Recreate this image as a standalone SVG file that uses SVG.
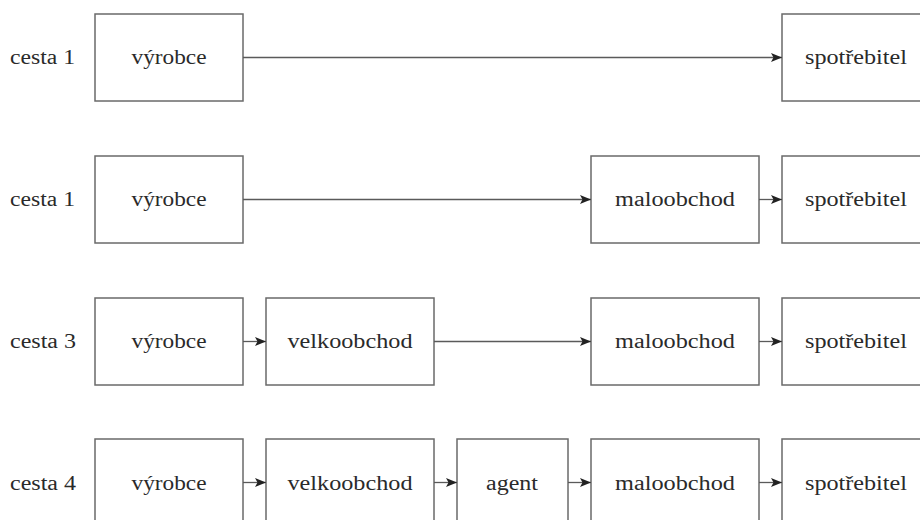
<svg xmlns="http://www.w3.org/2000/svg" width="920" height="520" viewBox="0 0 920 520">
<style>
.box{fill:#fff;stroke:#6a6a6a;stroke-width:1.5}
.t{font-family:"Liberation Serif","Times New Roman",serif;font-size:20.5px;fill:#2a2a2a;text-anchor:middle}
.lbl{font-family:"Liberation Serif","Times New Roman",serif;font-size:20.5px;fill:#2a2a2a}
.c{stroke:#5a5a5a;stroke-width:1.3;fill:none;marker-end:url(#ah)}
</style>
<defs>
<marker id="ah" markerUnits="userSpaceOnUse" markerWidth="12" markerHeight="10" refX="11" refY="5" orient="auto">
<path d="M0,0.5 L11,5 L0,9.5 L2.5,5 Z" fill="#222"/>
</marker>
</defs>
<rect width="920" height="520" fill="#fff"/>
<g id="labels">
<text class="lbl" x="10" y="64" textLength="65" lengthAdjust="spacingAndGlyphs">cesta 1</text>
<text class="lbl" x="10" y="206" textLength="65" lengthAdjust="spacingAndGlyphs">cesta 1</text>
<text class="lbl" x="10" y="348" textLength="66" lengthAdjust="spacingAndGlyphs">cesta 3</text>
<text class="lbl" x="10" y="490" textLength="66" lengthAdjust="spacingAndGlyphs">cesta 4</text>
</g>
<g id="r1-vyrobce"><rect class="box" x="95" y="14" width="148" height="87"/><text class="t" x="169" y="64" textLength="75" lengthAdjust="spacingAndGlyphs">výrobce</text></g>
<g id="r1-spotrebitel"><rect class="box" x="782" y="14" width="148" height="87"/><text class="t" x="856" y="64" textLength="102" lengthAdjust="spacingAndGlyphs">spotřebitel</text></g>

<g id="r2-vyrobce"><rect class="box" x="95" y="156" width="148" height="87"/><text class="t" x="169" y="206" textLength="75" lengthAdjust="spacingAndGlyphs">výrobce</text></g>
<g id="r2-maloobchod"><rect class="box" x="591" y="156" width="168" height="87"/><text class="t" x="675" y="206" textLength="120" lengthAdjust="spacingAndGlyphs">maloobchod</text></g>
<g id="r2-spotrebitel"><rect class="box" x="782" y="156" width="148" height="87"/><text class="t" x="856" y="206" textLength="102" lengthAdjust="spacingAndGlyphs">spotřebitel</text></g>

<g id="r3-vyrobce"><rect class="box" x="95" y="298" width="148" height="87"/><text class="t" x="169" y="348" textLength="75" lengthAdjust="spacingAndGlyphs">výrobce</text></g>
<g id="r3-velkoobchod"><rect class="box" x="266" y="298" width="168" height="87"/><text class="t" x="350" y="348" textLength="125" lengthAdjust="spacingAndGlyphs">velkoobchod</text></g>
<g id="r3-maloobchod"><rect class="box" x="591" y="298" width="168" height="87"/><text class="t" x="675" y="348" textLength="120" lengthAdjust="spacingAndGlyphs">maloobchod</text></g>
<g id="r3-spotrebitel"><rect class="box" x="782" y="298" width="148" height="87"/><text class="t" x="856" y="348" textLength="102" lengthAdjust="spacingAndGlyphs">spotřebitel</text></g>

<g id="r4-vyrobce"><rect class="box" x="95" y="439" width="148" height="87"/><text class="t" x="169" y="490" textLength="75" lengthAdjust="spacingAndGlyphs">výrobce</text></g>
<g id="r4-velkoobchod"><rect class="box" x="266" y="439" width="168" height="87"/><text class="t" x="350" y="490" textLength="125" lengthAdjust="spacingAndGlyphs">velkoobchod</text></g>
<g id="r4-agent"><rect class="box" x="457" y="439" width="111" height="87"/><text class="t" x="512" y="490" textLength="52" lengthAdjust="spacingAndGlyphs">agent</text></g>
<g id="r4-maloobchod"><rect class="box" x="591" y="439" width="168" height="87"/><text class="t" x="675" y="490" textLength="120" lengthAdjust="spacingAndGlyphs">maloobchod</text></g>
<g id="r4-spotrebitel"><rect class="box" x="782" y="439" width="148" height="87"/><text class="t" x="856" y="490" textLength="102" lengthAdjust="spacingAndGlyphs">spotřebitel</text></g>

<g id="connectors">
<line class="c" x1="243" y1="57.5" x2="782" y2="57.5"/>
<line class="c" x1="243" y1="199.5" x2="591" y2="199.5"/>
<line class="c" x1="759" y1="199.5" x2="782" y2="199.5"/>
<line class="c" x1="243" y1="341.5" x2="266" y2="341.5"/>
<line class="c" x1="434" y1="341.5" x2="591" y2="341.5"/>
<line class="c" x1="759" y1="341.5" x2="782" y2="341.5"/>
<line class="c" x1="243" y1="482.5" x2="266" y2="482.5"/>
<line class="c" x1="434" y1="482.5" x2="457" y2="482.5"/>
<line class="c" x1="568" y1="482.5" x2="591" y2="482.5"/>
<line class="c" x1="759" y1="482.5" x2="782" y2="482.5"/>
</g>
</svg>
